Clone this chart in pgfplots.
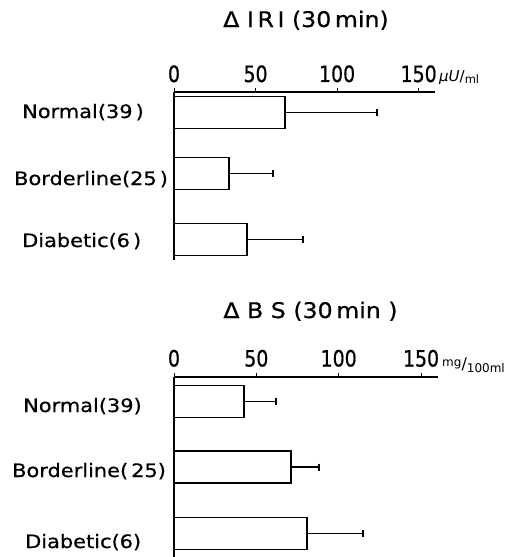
\documentclass[border=0pt]{standalone}
\usepackage{fontspec}
\setmainfont{DejaVu Sans}
\newfontfamily\labfont{DejaVu Sans}[FakeStretch=1.13, FakeBold=0.6]
\newfontfamily\titfont{DejaVu Sans}[FakeStretch=1.1, FakeBold=0.6]
\newfontfamily\tickfont{DejaVu Sans}[FakeStretch=0.84, FakeBold=0.6]
\usepackage{pgfplots}
\pgfplotsset{compat=1.18}
\pgfplotsset{myax/.style={
  scale only axis, xmin=0, xmax=160,
  axis x line*=top, axis y line*=left,
  x axis line style={-}, y axis line style={-},
  axis line style={line width=1.2bp, black},
  xtick={0,50,100,150}, ytick=\empty,
  tick align=outside, major tick length=4bp,
  tick style={line width=1bp, black},
  /pgf/number format/assume math mode=true,
  xticklabel style={font=\tickfont\fontsize{22.5bp}{22.5bp}\selectfont, anchor=base},
  clip=false,
}}
\pgfplotsset{mybar/.style={
  xbar, bar width=32, draw=black, fill=white, line width=1.7bp,
  error bars/.cd, x dir=plus, x explicit, error mark=|,
  error bar style={line width=1.5bp, black},
  error mark options={line width=1.5bp, mark size=3.5bp, black},
}}
\begin{document}
\begin{tikzpicture}
\path[use as bounding box] (0,0) rectangle (512bp,-557bp);
% top chart
\begin{axis}[myax, width=261bp, height=168bp, at={(174bp,-260bp)}, anchor=south west,
  ymin=-260, ymax=-92, xticklabel style={yshift=6bp}]
\addplot[mybar] coordinates {(68.1,-112.5) +- (56.4,0) (33.7,-173.5) +- (27,0) (44.8,-239.5) +- (34.3,0)};
\end{axis}
% bottom chart
\begin{axis}[myax, width=263.5bp, height=180bp, at={(174bp,-557bp)}, anchor=south west,
  ymin=-557, ymax=-377, xticklabel style={yshift=6.5bp}]
\addplot[mybar] coordinates {(42.5,-401.5) +- (19.4,0) (71,-467) +- (17,0) (80.8,-533.5) +- (34,0)};
\end{axis}
\begin{scope}[every node/.style={font=\labfont\fontsize{18.5bp}{18.5bp}\selectfont, inner sep=0pt}]
\node[anchor=base west] at (22bp,-118bp) {Normal(39\,)};
\node[anchor=base west] at (14bp,-185bp) {Borderline(25\,)};
\node[anchor=base west] at (22bp,-247bp) {Diabetic(6\,)};
\node[anchor=base west] at (23bp,-412bp) {Normal(39)};
\node[anchor=base west] at (12bp,-477bp) {Borderline(\,25)};
\node[anchor=base west] at (25bp,-548bp) {Diabetic(6)};
\end{scope}
\begin{scope}[every node/.style={font=\titfont\fontsize{21.5bp}{21.5bp}\selectfont, inner sep=0pt}]
\node[anchor=base] at (306bp,-27bp) {Δ I\,R\,I (30\,min)};
\node[anchor=base] at (310.5bp,-318bp) {Δ B S (30\,min )};
\end{scope}
\node[anchor=base west, inner sep=0pt] at (439bp,-81bp) {\fontsize{15bp}{15bp}\selectfont\textit{μU}/\raisebox{-2bp}{\fontsize{11.5bp}{11.5bp}\selectfont ml}};
\node[anchor=base west, inner sep=0pt] at (442bp,-366bp) {\fontsize{12bp}{12bp}\selectfont mg\raisebox{-3bp}{\fontsize{16bp}{16bp}\selectfont /}\raisebox{-6bp}{100ml}};
\end{tikzpicture}
\end{document}
